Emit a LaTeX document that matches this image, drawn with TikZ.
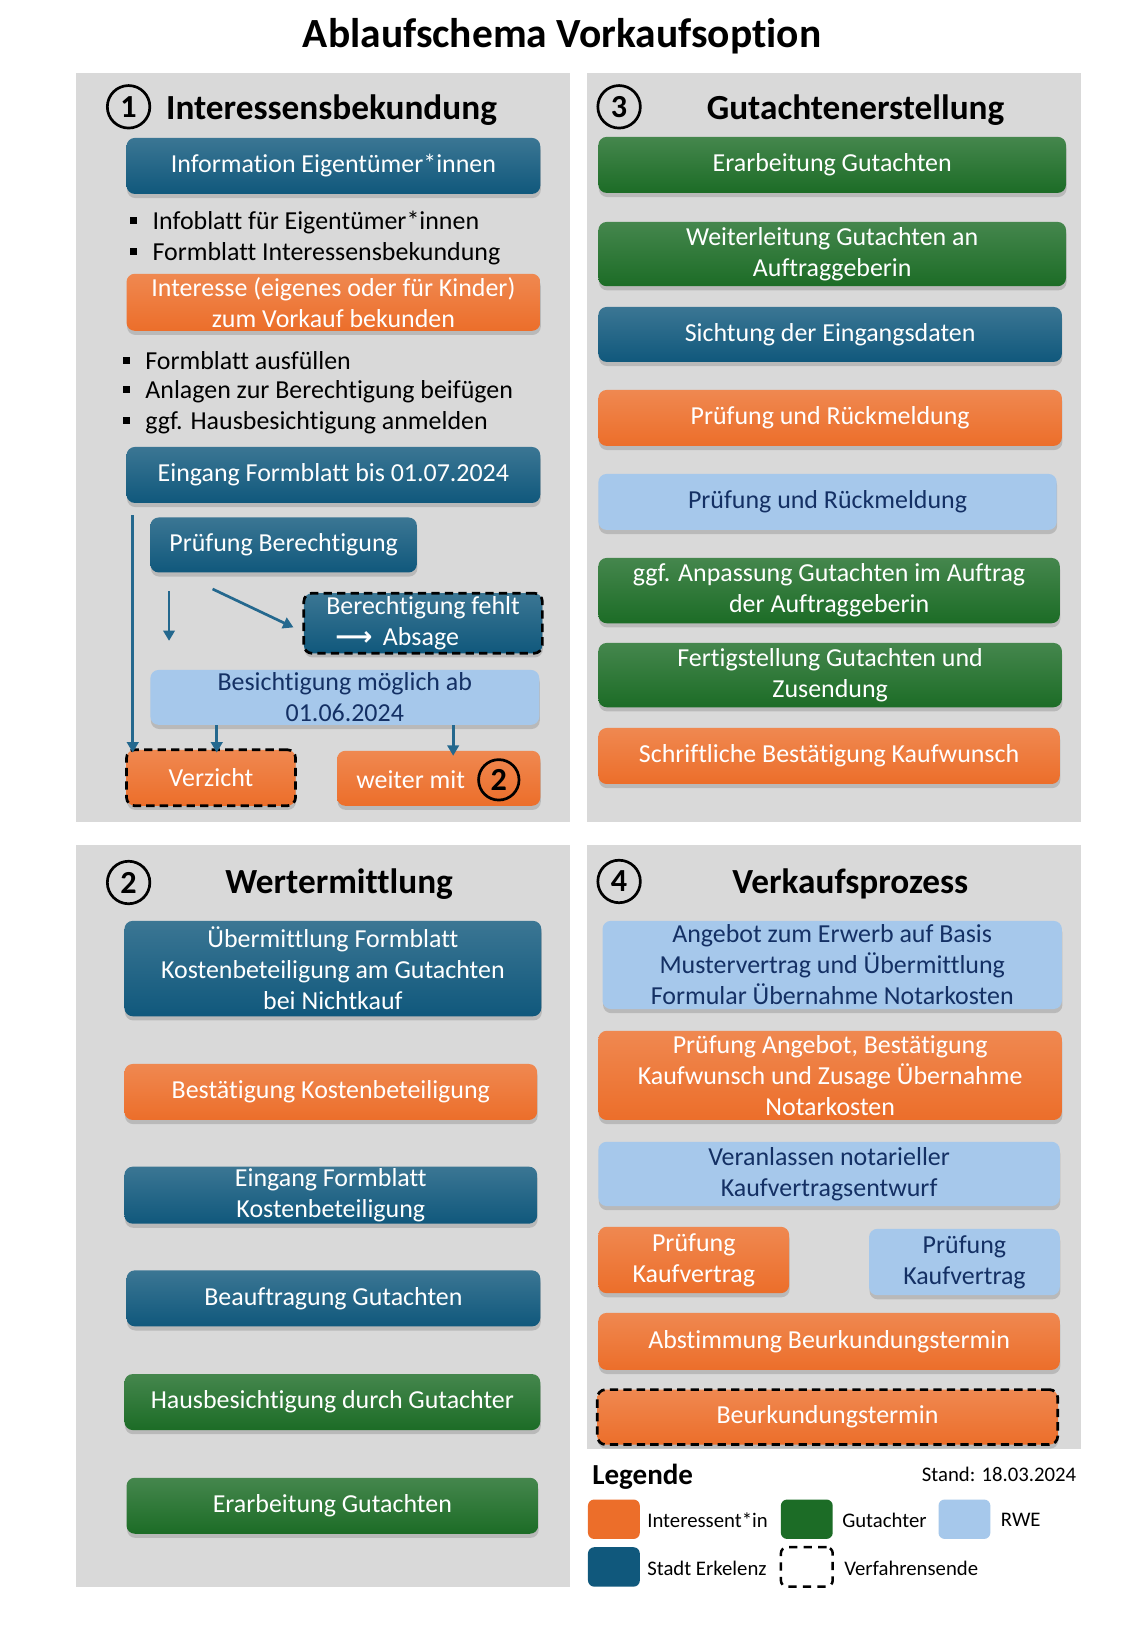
\documentclass[tikz,border=0pt]{standalone}
\usepackage{fontspec}
\setmainfont{Carlito}[Ligatures=NoCommon]
\newfontfamily\dejavu{DejaVu Sans}
\usetikzlibrary{shadows,calc,arrows.meta}
\definecolor{cblue}{RGB}{16,88,124}
\definecolor{corange}{RGB}{236,110,42}
\definecolor{cgreen}{RGB}{28,108,38}
\definecolor{clight}{RGB}{166,200,235}
\definecolor{cnavy}{RGB}{20,48,100}
\definecolor{cpanel}{RGB}{217,217,217}
\definecolor{carrow}{RGB}{36,104,142}
\tikzset{
  base/.style={rounded corners=8pt, inner sep=0pt, align=center,
    font=\fontsize{25}{30}\selectfont,
    drop shadow={shadow xshift=0.5pt, shadow yshift=-4pt, opacity=0.35}},
  sblue/.style={base, top color=cblue!82!white, bottom color=cblue, text=white},
  sorange/.style={base, top color=corange!82!white, bottom color=corange, text=white},
  sgreen/.style={base, top color=cgreen!82!white, bottom color=cgreen, text=white},
  slight/.style={base, fill=clight, text=cnavy},
  endbox/.style={draw=black, line width=2.6pt, dash pattern=on 8pt off 5pt},
  panel/.style={fill=cpanel, draw=none},
  numc/.style={circle, draw=black, line width=2.6pt, minimum size=41pt, inner sep=0pt,
    font=\fontsize{31}{31}\selectfont\bfseries},
  head/.style={font=\fontsize{34}{34}\selectfont\bfseries, inner sep=0pt},
  bul/.style={anchor=west, inner sep=0pt, font=\fontsize{25}{30}\selectfont},
  arr/.style={draw=carrow, line width=2.6pt, -{Triangle[width=11pt,length=10pt]}},
  leg/.style={anchor=west, inner sep=0pt, font=\fontsize{20}{22}\selectfont},
  sw/.style={rounded corners=6pt, minimum width=50pt, minimum height=38pt, inner sep=0pt}
}
\newcommand{\boxat}[7]{%
  \node[#2, minimum width={(#5-#3)*1pt}, minimum height={(#6-#4)*1pt}]
    (#1) at ({(#3+#5)/2},{(#4+#6)/2}) {#7};}
\newcommand{\bulitem}[4]{%
  \node[bul] (#1) at (#2,#3) {\llap{\rule[0.22em]{7pt}{7pt}\hspace{15pt}}#4};}
\begin{document}
\begin{tikzpicture}[x=1pt,y=-1pt]
\useasboundingbox (0,0) rectangle (1085,1567);
\fill[white] (0,0) rectangle (1085,1567);
% title
\node[font=\fontsize{40}{40}\selectfont\bfseries, inner sep=0pt] (title) at (542,35) {Ablaufschema Vorkaufsoption};
% panels
\fill[panel] (73,70) rectangle (550,793);
\fill[panel] (566,70) rectangle (1042,793);
\fill[panel] (73,815) rectangle (550,1530);
\fill[panel] (566,815) rectangle (1042,1397);

% ---- Panel 1
\node[numc] (n1) at (124,103) {1};
\node[head, anchor=west] (h1) at (160,106) {Interessensbekundung};
\boxat{info}{sblue}{122}{133}{521}{187}{Information Eigentümer*innen}
\bulitem{b1}{147}{215}{Infoblatt für Eigentümer*innen}
\bulitem{b2}{147}{245}{Formblatt Interessensbekundung}
\boxat{inter}{sorange}{122}{264}{521}{319}{Interesse (eigenes oder für Kinder)\\zum Vorkauf bekunden}
\bulitem{b3}{140}{348}{Formblatt ausfüllen}
\bulitem{b4}{140}{378}{Anlagen zur Berechtigung beifügen}
\bulitem{b5}{140}{408}{ggf. Hausbesichtigung anmelden}
\boxat{eing}{sblue}{122}{431}{521}{485}{Eingang Formblatt bis 01.07.2024}
\boxat{pruef}{sblue}{145}{499}{402}{552}{Prüfung Berechtigung}
\boxat{fehlt}{sblue,endbox}{293}{572}{523}{630}{Berechtigung fehlt\\{\dejavu\bfseries ⟶}\hspace{0.4em}Absage\hspace*{2em}}
\boxat{besich}{slight}{145}{646}{520}{699}{Besichtigung möglich ab\\01.06.2024}
\boxat{verz}{sorange,endbox}{122}{723}{285}{777}{Verzicht}
\boxat{weiter}{sorange}{325}{724}{521}{777}{}
\node[inner sep=0pt, text=white, font=\fontsize{25}{30}\selectfont] (wtxt) at (396,752) {weiter mit};
\node[numc, minimum size=39pt] (n2b) at (481,752) {2};
% arrows panel 1
\coordinate (c128) at (128,497);
\coordinate (c163a) at (163,570);
\coordinate (c163b) at (163,618);
\coordinate (d1) at (205,568);
\coordinate (d2) at (283,605);
\coordinate (c209) at (209,0);
\coordinate (c437) at (437,0);
\draw[arr] (c128) -- ([yshift=-4pt]c128 |- verz.north);
\draw[arr] (c163a) -- (c163b);
\draw[arr] (d1) -- (d2);
\draw[arr] (besich.south -| c209) -- ([yshift=-4pt]verz.north -| c209);
\draw[arr] (besich.south -| c437) -- ([yshift=-5pt]weiter.north -| c437);

% ---- Panel 3
\node[numc] (n3) at (597,103) {3};
\node[head] (h3) at (825,106) {Gutachtenerstellung};
\boxat{g1}{sgreen}{577}{132}{1028}{186}{Erarbeitung Gutachten}
\boxat{g2}{sgreen}{577}{214}{1028}{276}{Weiterleitung Gutachten an\\Auftraggeberin}
\boxat{g3}{sblue}{577}{296}{1024}{349}{Sichtung der Eingangsdaten}
\boxat{g4}{sorange}{577}{376}{1024}{430}{Prüfung und Rückmeldung}
\boxat{g5}{slight}{577}{457}{1019}{511}{Prüfung und Rückmeldung}
\boxat{g6}{sgreen}{577}{538}{1022}{601}{ggf. Anpassung Gutachten im Auftrag\\der Auftraggeberin}
\boxat{g7}{sgreen}{577}{620}{1024}{682}{Fertigstellung Gutachten und\\Zusendung}
\boxat{g8}{sorange}{577}{702}{1022}{756}{Schriftliche Bestätigung Kaufwunsch}

% ---- Panel 2
\node[numc] (n2) at (124,851) {2};
\node[head] (h2) at (327,853) {Wertermittlung};
\boxat{w1}{sblue}{120}{888}{522}{980}{Übermittlung Formblatt\\Kostenbeteiligung am Gutachten\\bei Nichtkauf}
\boxat{w2}{sorange}{120}{1026}{518}{1080}{Bestätigung Kostenbeteiligung}
\boxat{w3}{sblue}{120}{1125}{518}{1180}{Eingang Formblatt\\Kostenbeteiligung}
\boxat{w4}{sblue}{122}{1225}{521}{1279}{Beauftragung Gutachten}
\boxat{w5}{sgreen}{120}{1325}{521}{1379}{Hausbesichtigung durch Gutachter}
\boxat{w6}{sgreen}{122}{1425}{519}{1479}{Erarbeitung Gutachten}

% ---- Panel 4
\node[numc] (n4) at (597,850) {4};
\node[head] (h4) at (820,852) {Verkaufsprozess};
\boxat{v1}{slight}{581}{888}{1024}{973}{Angebot zum Erwerb auf Basis\\Mustervertrag und Übermittlung\\Formular Übernahme Notarkosten}
\boxat{v2}{sorange}{577}{994}{1024}{1080}{Prüfung Angebot, Bestätigung\\Kaufwunsch und Zusage Übernahme\\Notarkosten}
\boxat{v3}{slight}{577}{1101}{1022}{1163}{Veranlassen notarieller\\Kaufvertragsentwurf}
\boxat{v4}{sorange}{577}{1183}{761}{1247}{Prüfung\\Kaufvertrag}
\boxat{v5}{slight}{838}{1185}{1022}{1249}{Prüfung\\Kaufvertrag}
\boxat{v6}{sorange}{577}{1266}{1022}{1321}{Abstimmung Beurkundungstermin}
\boxat{v7}{sorange,endbox}{576}{1340}{1020}{1393}{Beurkundungstermin}

% ---- Legend
\node[anchor=west, inner sep=0pt, font=\fontsize{28}{28}\selectfont\bfseries] (legt) at (571,1424) {Legende};
\node[anchor=east, inner sep=0pt, font=\fontsize{20}{22}\selectfont] (stand) at (1038,1422) {Stand: 18.03.2024};
\node[sw, fill=corange] (s1) at (592,1465) {};
\node[leg] (l1) at (624,1466) {Interessent*in};
\node[sw, fill=cgreen] (s2) at (778,1465) {};
\node[leg] (l2) at (812,1466) {Gutachter};
\node[sw, fill=clight] (s3) at (930,1465) {};
\node[leg] (l3) at (965,1466) {RWE};
\node[sw, fill=cblue] (s4) at (592,1511) {};
\node[leg] (l4) at (624,1512) {Stadt Erkelenz};
\node[sw, draw=black, line width=2.4pt, dash pattern=on 8pt off 6pt] (s5) at (778,1511) {};
\node[leg] (l5) at (814,1512) {Verfahrensende};
\end{tikzpicture}
\end{document}
